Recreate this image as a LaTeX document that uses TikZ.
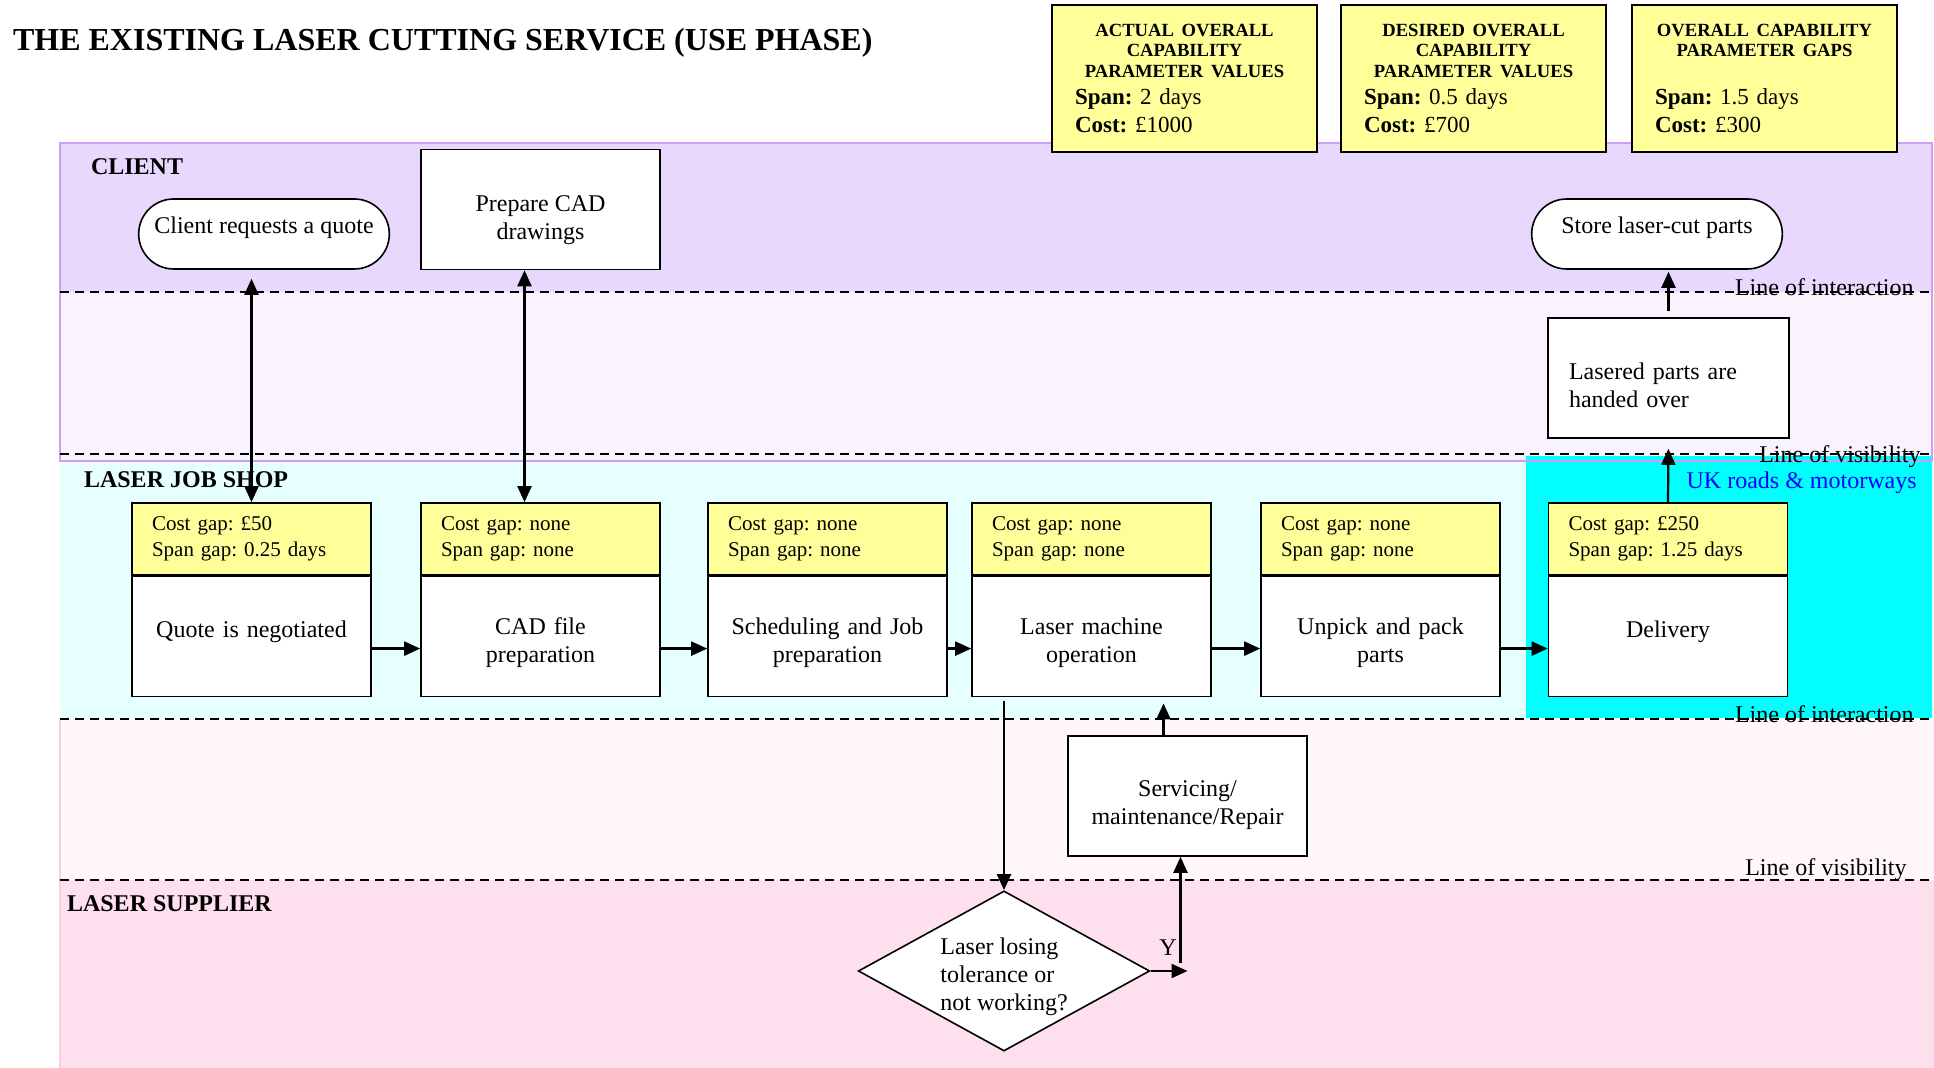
\documentclass[tikz,border=0pt]{standalone}
\usepackage{fontspec}
\setmainfont{Liberation Serif}
\frenchspacing
\usetikzlibrary{shapes.geometric,shapes.misc,arrows.meta,positioning}
\definecolor{clientbg}{HTML}{E9D8FD}
\definecolor{clientlow}{HTML}{F8F3FE}
\definecolor{clientedge}{HTML}{C9A0F4}
\definecolor{shopbg}{HTML}{E6FFFF}
\definecolor{shoplow}{HTML}{FFF7FA}
\definecolor{supplierbg}{HTML}{FDDFEE}
\definecolor{supplieredge}{HTML}{FBCDE3}
\definecolor{gapyellow}{HTML}{FFFF99}
\definecolor{roadcyan}{HTML}{00FFFF}
\begin{document}
\begin{tikzpicture}[x=0.5pt, y=-0.5pt,
    gapbox/.style={draw, line width=0.8pt, fill=gapyellow, minimum width=119.5pt, minimum height=36pt, text width=99.5pt, inner xsep=10pt, align=left, font=\fontsize{10.5}{13}\selectfont},
    stepbox/.style={draw, line width=0.8pt, fill=white, minimum width=119.5pt, minimum height=60pt, text width=105pt, align=center, font=\fontsize{12}{14}\selectfont},
    pill/.style={draw, line width=0.8pt, fill=white, rounded rectangle, minimum width=132pt, minimum height=35pt, text height=8pt, text depth=8pt, font=\fontsize{12}{14}\selectfont},
    plainbox/.style={draw, line width=0.8pt, fill=white, minimum width=119.5pt, minimum height=60pt, align=center, font=\fontsize{12}{14}\selectfont},
    decision/.style={draw, line width=0.8pt, fill=white, diamond, aspect=1.82, minimum width=144pt, minimum height=79pt, inner sep=0pt, align=left, font=\fontsize{12}{14}\selectfont},
    parambox/.style={draw, line width=1pt, fill=gapyellow, minimum width=132.5pt, minimum height=73.5pt, text width=109.5pt, inner xsep=11.5pt, font=\fontsize{11.5}{13.75}\selectfont},
    lanelabel/.style={anchor=west, font=\fontsize{12}{14}\selectfont\bfseries},
    linelabel/.style={anchor=east, inner sep=0pt, font=\fontsize{12}{14}\selectfont},
    lanedash/.style={dash pattern=on 4.5pt off 3pt, line width=0.8pt},
    arr/.style={line width=1.1pt, -{Triangle[length=8pt,width=7pt]}},
    dbl/.style={line width=1.1pt, {Triangle[length=8pt,width=7pt]}-{Triangle[length=8pt,width=7pt]}},
  ]
    \useasboundingbox (0,0) rectangle (1934,1068);
    \fill[clientbg] (60,143) rectangle (1932,292);
    \fill[clientlow] (60,292) rectangle (1932,461);
    \fill[shopbg] (60,461) rectangle (1934,719);
    \fill[shoplow] (60,719) rectangle (1934,880);
    \fill[supplierbg] (60,880) rectangle (1934,1068);
    \fill[roadcyan] (1526,456) rectangle (1932,718);
    \draw[clientedge, line width=0.6pt] (60,143) rectangle (1932,461);
    \draw[supplieredge, line width=0.6pt] (60,719) -- (60,1068);

    \draw[lanedash] (60,292) -- (1934,292);
    \draw[lanedash] (60,454) -- (1934,454);
    \draw[lanedash] (60,719) -- (1934,719);
    \draw[lanedash] (60,880) -- (1934,880);

    \node[anchor=west, font=\fontsize{16}{19}\selectfont\bfseries] (title) at (6,43) {THE EXISTING LASER CUTTING SERVICE (USE PHASE)};

    \node[parambox] (actual) at (1184.5,78.5) {{\centering\bfseries\fontsize{9.3}{10.25}\selectfont ACTUAL OVERALL\\CAPABILITY\\PARAMETER VALUES\par}\raggedright\textbf{Span:} 2 days\\\textbf{Cost:} £1000};
    \node[parambox, right=11pt of actual] (desired) {{\centering\bfseries\fontsize{9.3}{10.25}\selectfont DESIRED OVERALL\\CAPABILITY\\PARAMETER VALUES\par}\raggedright\textbf{Span:} 0.5 days\\\textbf{Cost:} £700};
    \node[parambox, right=12pt of desired] (gaps) {{\centering\bfseries\fontsize{9.3}{10.25}\selectfont OVERALL CAPABILITY\\PARAMETER GAPS\\\mbox{}\par}\raggedright\textbf{Span:} 1.5 days\\\textbf{Cost:} £300};

    \node[lanelabel] (client) at (84,167) {CLIENT};
    \node[lanelabel] (shop) at (77,480) {LASER JOB SHOP};
    \node[lanelabel] (supplier) at (60,904) {LASER SUPPLIER};

    \node[linelabel] (inter1) at (1914,287) {Line of interaction};
    \node[linelabel] (visib1) at (1921,457) {Line of visibility};
    \node[linelabel] (inter2) at (1914,714) {Line of interaction};
    \node[linelabel] (visib2) at (1907,870) {Line of visibility};
    \node[linelabel, text=blue] (roads) at (1917,483) {UK roads \& motorways};

    \node[pill] (askquote) at (264,234) {Client requests a quote};
    \node[plainbox] (prepcad) at (540.5,209.5) {\rule{0pt}{19pt}Prepare CAD\\drawings};
    \node[pill] (storeparts) at (1657,234) {Store laser-cut parts};
    \node[plainbox, minimum width=120.5pt, text width=99.5pt, inner xsep=10.5pt, align=left] (handover) at (1668.5,378) {\rule{0pt}{15.5pt}Lasered parts are\\handed over};

    \node[gapbox] (quoteg) at (251.5,539) {Cost gap: £50\\Span gap: 0.25 days};
    \node[stepbox, below=0pt of quoteg] (quote) {\rule{0pt}{14.5pt}Quote is negotiated\\\mbox{}};
    \node[gapbox] (cadg) at (540.5,539) {Cost gap: none\\Span gap: none};
    \node[stepbox, below=0pt of cadg] (cadfile) {\rule{0pt}{14.5pt}CAD file\\preparation};
    \node[gapbox] (schedg) at (827.5,539) {Cost gap: none\\Span gap: none};
    \node[stepbox, below=0pt of schedg] (sched) {\rule{0pt}{14.5pt}Scheduling and Job\\preparation};
    \node[gapbox] (laserg) at (1091.5,539) {Cost gap: none\\Span gap: none};
    \node[stepbox, below=0pt of laserg] (lasering) {\rule{0pt}{14.5pt}Laser machine\\operation};
    \node[gapbox] (unpickg) at (1380.5,539) {Cost gap: none\\Span gap: none};
    \node[stepbox, below=0pt of unpickg] (unpick) {\rule{0pt}{14.5pt}Unpick and pack\\parts};
    \node[gapbox] (delivg) at (1668,539) {Cost gap: £250\\Span gap: 1.25 days};
    \node[stepbox, below=0pt of delivg] (delivery) {\rule{0pt}{14.5pt}Delivery\\\mbox{}};

    \node[plainbox] (service) at (1187.5,796) {\rule{0pt}{17pt}Servicing/\\maintenance/Repair};
    \node[decision] (decide) at (1004,971) {\rule{0pt}{14.5pt}Laser losing\\tolerance or\\not working?};
    \coordinate (yturn) at ([xshift=-3.5pt]service.south |- decide.east);
    \node[font=\fontsize{12}{14}\selectfont] (yes) at (1168,948) {Y};

    \draw[dbl, shorten >=4.5pt] (quoteg.north) -- (quoteg.north |- askquote.south);
    \draw[dbl] ([xshift=-8pt]cadg.north) -- ([xshift=-8pt]prepcad.south);
    \draw[arr] ([yshift=-6pt]quote.east) -- ([yshift=-6pt]cadfile.west);
    \draw[arr] ([yshift=-6pt]cadfile.east) -- ([yshift=-6pt]sched.west);
    \draw[arr] ([yshift=-6pt]sched.east) -- ([yshift=-6pt]lasering.west);
    \draw[arr] ([yshift=-6pt]lasering.east) -- ([yshift=-6pt]unpick.west);
    \draw[arr] ([yshift=-6pt]unpick.east) -- ([yshift=-6pt]delivery.west);
    \draw[arr, shorten >=5pt] (delivg.north) -- (handover.south);
    \draw[arr, shorten <=3pt, shorten >=1pt] (handover.north) -- (handover.north |- storeparts.south);
    \draw[arr, shorten <=2pt] (decide.north |- lasering.south) -- (decide.north);
    \draw[arr, shorten >=3pt] ([xshift=-12pt]service.north) -- ([xshift=-12pt]service.north |- lasering.south);
    \draw[arr] (decide.east) -- ([xshift=3.5pt]yturn);
    \draw[arr] ([yshift=4pt]yturn) -- ([xshift=-3.5pt]service.south);
  \end{tikzpicture}
\end{document}
